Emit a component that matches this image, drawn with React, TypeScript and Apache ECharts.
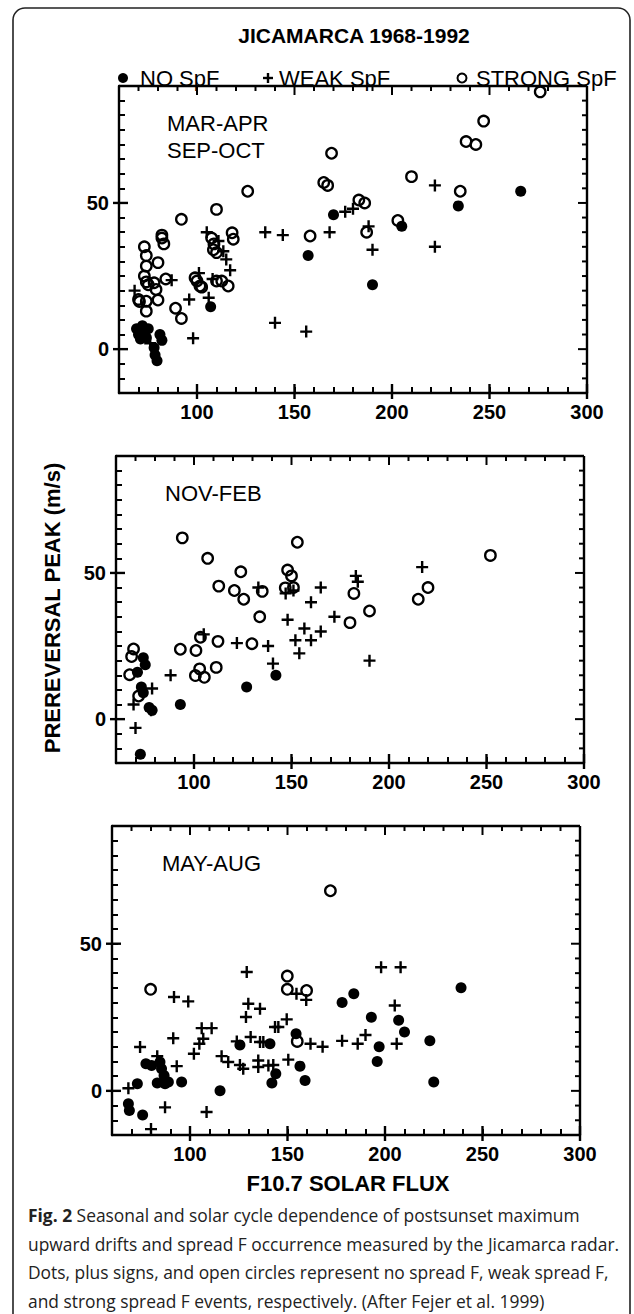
import React, { useEffect, useRef } from "react";
import * as echarts from "echarts";

// ---------------- data ----------------
const X_RANGE = [60, 300];
const Y_RANGE = [-15, 90];
const X_TICK_LABELS = [100, 150, 200, 250, 300];
const Y_TICK_LABELS = [0, 50];
const X_MINOR_STEP = 10;
const Y_MINOR_STEP = 5;

const TITLE = "JICAMARCA 1968-1992";
const LEGEND = ["NO SpF", "WEAK SpF", "STRONG SpF"];
const PANEL_TITLES = [["MAR-APR", "SEP-OCT"], ["NOV-FEB"], ["MAY-AUG"]];
const Y_TITLE = "PREREVERSAL PEAK (m/s)";
const X_TITLE = "F10.7 SOLAR FLUX";
const CAPTION = [
  "{b|Fig. 2} Seasonal and solar cycle dependence of postsunset maximum",
  "upward drifts and spread F occurrence measured by the Jicamarca radar.",
  "Dots, plus signs, and open circles represent no spread F, weak spread F,",
  "and strong spread F events, respectively. (After Fejer et al. 1999)",
];

// Panel 1: MAR-APR / SEP-OCT
const equinoxNone = [
  [69, 7], [70, 5], [71, 3.5], [72, 8], [73, 5.5], [74, 4], [75, 7], [81, 5], [82, 3],
  [78, 0.5], [78.5, -2], [79.5, -4], [107, 14.5], [157, 32], [170, 46], [190, 22],
  [205, 42], [234, 49], [266, 54],
];
const equinoxWeak = [
  [68, 20], [76, 2], [87, 23.6], [96, 17], [98, 3.7], [101, 26], [105, 40], [108, 24],
  [106, 17.6], [111, 37], [113.5, 33.5], [115, 30.7], [117, 27], [135, 40], [144, 39],
  [140, 9], [156, 6], [168, 40], [176, 47], [180, 48], [188, 42], [190, 34], [222, 56],
  [222, 35],
];
const equinoxStrong = [
  [73, 35], [74, 32], [74, 28.4], [73, 25], [74, 23], [75, 22], [80, 29.6], [82, 39],
  [82, 38], [83, 36], [84, 24], [78, 22.7], [79, 20.4], [70, 17], [70.5, 16.3], [74, 16.4],
  [80, 16.8], [74, 13], [89, 14], [92, 10.5], [92, 44.4], [99, 24.4], [100, 23.3],
  [101.5, 21.6], [102.4, 21.2], [110, 47.8], [107.5, 38], [108.7, 36], [108.4, 34],
  [110, 33], [118, 39.8], [118.6, 37.6], [110, 23.3], [112.7, 23.3], [116, 21.6],
  [126, 54], [158, 38.7], [165, 57], [167, 56], [169, 67], [183, 51], [186, 50],
  [187, 40], [203, 44], [210, 59], [235, 54], [238, 71], [243, 70], [247, 78], [276, 88],
];

// Panel 2: NOV-FEB
const winterNone = [
  [72.5, -12], [93, 5], [127, 11], [142, 15], [74, 21], [75, 18.6], [71, 16], [73, 11],
  [74, 9], [77, 4], [78.5, 3],
];
const winterWeak = [
  [69, 5], [70, -3], [78.5, 10.5], [78, 3], [88, 15], [105, 29], [122, 26], [133, 45],
  [138, 25], [140.5, 19], [148, 34], [151, 44], [152, 27], [154, 22.5], [156.6, 31],
  [147, 43], [160, 40], [165, 45], [172, 35], [183, 49], [184, 47], [190, 20], [217, 52],
  [165, 30], [160, 27],
];
const winterStrong = [
  [69, 24], [68, 21.4], [67, 15.2], [71.6, 7.9], [94, 62], [153, 60.5], [107, 55],
  [124, 50.4], [148, 51], [150, 49], [151, 45], [112.7, 45.5], [120.7, 44], [125.5, 41],
  [135, 43.7], [146.8, 44.9], [133.7, 35], [129.7, 25.8], [112.3, 26.6], [103.3, 28],
  [93, 23.9], [101, 23.5], [111.4, 17.7], [102.9, 17.2], [100.7, 14.9], [105.3, 14.3],
  [182, 43], [180, 33], [190, 37], [215, 41], [220, 45], [252, 56],
];

// Panel 3: MAY-AUG
const summerNone = [
  [154.4, 19.4], [125.6, 15.6], [141, 16], [144, 5.8], [142, 2.7], [156.4, 8.4], [159, 3.5],
  [77.4, 9.2], [80.3, 8.6], [84.6, 9.8], [85.4, 7.5], [86.7, 5.2], [83.2, 2.7], [87.2, 2.4],
  [88.9, 3], [95.7, 3], [73, 2.4], [115.4, 0], [68.4, -4.4], [68.9, -6.7], [75.7, -8.2],
  [178, 30], [184, 33], [193, 25], [197, 15], [196, 10], [207, 24], [210, 20], [223, 17],
  [225, 3], [239, 35],
];
const summerWeak = [
  [91.8, 31.9], [99.1, 30.4], [129.1, 40.4], [129.9, 29.6], [135.9, 27.9], [128.7, 25.1],
  [154.6, 33], [159.6, 30.9], [149.6, 24.3], [143.6, 21.7], [145.3, 21.7], [161.8, 16],
  [106, 21.3], [111.1, 21.3], [106.8, 17.7], [104.8, 16], [91.4, 17.9], [74.4, 14.9],
  [102, 12.6], [124, 16.8], [131.1, 18.3], [135.9, 16.6], [137.6, 16.6], [116.2, 11.8],
  [119.6, 9.8], [125.6, 8.8], [127.3, 7.5], [135, 10.3], [135, 8.1], [140.2, 8.6],
  [142.7, 8.8], [150.4, 10.6], [83.2, 11.8], [93.2, 8.4], [68.4, 0.9], [87.2, -5.6],
  [108.5, -7.2], [80, -13], [168, 15], [178, 17], [186, 16], [190, 19], [198, 42],
  [208, 42], [205, 29], [206, 16],
];
const summerStrong = [
  [79.8, 34.5], [149.9, 39], [149.9, 34.5], [159.8, 34.1], [155, 16.8], [172, 68],
];

const PANELS = [
  [equinoxNone, equinoxWeak, equinoxStrong],
  [winterNone, winterWeak, winterStrong],
  [summerNone, summerWeak, summerStrong],
];

// ---------------- styling ----------------
const INK = "#000";
const FONT = "'Liberation Sans', Arial, Helvetica, sans-serif";
const CAP_FONT = "'Open Sans', 'Noto Sans', sans-serif";
const PLUS = "path://M4,0H6V4H10V6H6V10H4V6H0V4H4Z";
const GRIDS = [
  { left: 119, top: 86, width: 468, height: 307 },
  { left: 116, top: 456, width: 468, height: 307 },
  { left: 112, top: 826, width: 468, height: 309 },
];

export default function App() {
  const ref = useRef<HTMLDivElement>(null);
  useEffect(() => {
    if (!ref.current) return;
    const chart = echarts.init(ref.current, undefined, { renderer: "svg" });

    const line = { color: INK, width: 2.4 };
    const tick = { color: INK, width: 2 };
    const label = { show: true, fontSize: 20, fontWeight: "bold", color: INK, fontFamily: FONT };

    const xAxis: any[] = [];
    const yAxis: any[] = [];
    GRIDS.forEach((_, gi) => {
      xAxis.push({
        type: "value",
        gridIndex: gi,
        min: X_RANGE[0],
        max: X_RANGE[1],
        interval: X_MINOR_STEP,
        splitLine: { show: false },
        axisLine: { show: true, onZero: false, lineStyle: line },
        axisTick: { show: true, inside: true, length: 6, lineStyle: tick },
        axisLabel: {
          ...label,
          margin: 9,
          formatter: (v: number) => (X_TICK_LABELS.includes(v) ? String(v) : ""),
        },
      });
      yAxis.push({
        type: "value",
        gridIndex: gi,
        min: Y_RANGE[0],
        max: Y_RANGE[1],
        interval: Y_MINOR_STEP,
        splitLine: { show: false },
        axisLine: { show: true, onZero: false, lineStyle: line },
        axisTick: { show: true, inside: true, length: 6, lineStyle: tick },
        axisLabel: {
          ...label,
          margin: 10,
          formatter: (v: number) => (Y_TICK_LABELS.includes(v) ? String(v) : ""),
        },
      });
    });

    const series: any[] = [];
    PANELS.forEach((sets, gi) => {
      const [none, weak, strong] = sets;
      const common = { type: "scatter", xAxisIndex: gi, yAxisIndex: gi, silent: true };
      series.push(
        {
          ...common,
          name: LEGEND[2],
          data: strong,
          symbol: "circle",
          symbolSize: 10.5,
          itemStyle: { color: "rgba(0,0,0,0)", borderColor: INK, borderWidth: 2.3, opacity: 1 },
        },
        {
          ...common,
          name: LEGEND[1],
          data: weak,
          symbol: PLUS,
          symbolSize: 12,
          itemStyle: { color: INK, opacity: 1 },
        },
        {
          ...common,
          name: LEGEND[0],
          data: none,
          symbol: "circle",
          symbolSize: 11,
          itemStyle: { color: INK, opacity: 1 },
        }
      );
    });

    const txt = (x: number, y: number, text: string, extra: any = {}, elExtra: any = {}) => ({
      type: "text",
      x,
      y,
      silent: true,
      ...elExtra,
      style: {
        text,
        fill: INK,
        fontFamily: FONT,
        fontSize: 22,
        textVerticalAlign: "middle",
        ...extra,
      },
    });

    const graphic: any[] = [
      {
        type: "rect",
        silent: true,
        shape: { x: 13, y: 8, width: 617, height: 1360, r: 12 },
        style: { fill: "none", stroke: "#222", lineWidth: 1.6 },
      },
      txt(354, 35, TITLE, { fontSize: 21, fontWeight: "bold", textAlign: "center" }),
      { type: "circle", silent: true, shape: { cx: 123, cy: 78, r: 5 }, style: { fill: INK } },
      txt(140, 78, LEGEND[0]),
      { type: "rect", silent: true, shape: { x: 263, y: 76.8, width: 10, height: 2.4 }, style: { fill: INK } },
      { type: "rect", silent: true, shape: { x: 266.8, y: 73, width: 2.4, height: 10 }, style: { fill: INK } },
      txt(279, 78, LEGEND[1]),
      { type: "circle", silent: true, shape: { cx: 462, cy: 78, r: 4.5 }, style: { fill: "none", stroke: INK, lineWidth: 2 } },
      txt(476, 78, LEGEND[2]),
      txt(167, 123, PANEL_TITLES[0][0]),
      txt(167, 150, PANEL_TITLES[0][1]),
      txt(165, 493, PANEL_TITLES[1][0]),
      txt(162, 863, PANEL_TITLES[2][0]),
      txt(0, 0, Y_TITLE, { fontSize: 22, fontWeight: "bold", textAlign: "center" }, { x: 52, y: 608, rotation: Math.PI / 2 }),
      txt(348, 1183, X_TITLE, { fontSize: 22, fontWeight: "bold", textAlign: "center" }),
    ];
    CAPTION.forEach((t, i) => {
      graphic.push({
        type: "text",
        x: 28,
        y: 1215 + i * 28.5,
        silent: true,
        style: {
          text: t,
          fill: "#222",
          fontFamily: CAP_FONT,
          fontSize: 17.4,
          textVerticalAlign: "middle",
          rich: { b: { fontFamily: CAP_FONT, fontSize: 17.4, fontWeight: "bold", fill: "#222" } },
        },
      });
    });

    chart.setOption({
      animation: false,
      backgroundColor: "#fff",
      grid: GRIDS,
      xAxis,
      yAxis,
      series,
      graphic,
    });

    // top/right frame ticks and major ticks, placed through the axes' own scales
    const extra: any[] = [];
    const seg = (x1: number, y1: number, x2: number, y2: number, w = 2) => ({
      type: "line",
      silent: true,
      shape: { x1, y1, x2, y2 },
      style: { stroke: INK, lineWidth: w },
    });
    GRIDS.forEach((_, gi) => {
      const xi = { xAxisIndex: gi };
      const yi = { yAxisIndex: gi };
      const X = (v: number) => chart.convertToPixel(xi, v) as number;
      const Y = (v: number) => chart.convertToPixel(yi, v) as number;
      const yB = Y(Y_RANGE[0]);
      const yT = Y(Y_RANGE[1]);
      const xL = X(X_RANGE[0]);
      const xR = X(X_RANGE[1]);
      extra.push(seg(xL, yT, xR, yT, 2.4), seg(xR, yT, xR, yB, 2.4));
      for (let v = X_RANGE[0] + X_MINOR_STEP; v < X_RANGE[1]; v += X_MINOR_STEP) {
        const major = X_TICK_LABELS.includes(v);
        extra.push(seg(X(v), yT, X(v), yT + (major ? 9 : 5)));
      }
      for (let v = Y_RANGE[0] + Y_MINOR_STEP; v < Y_RANGE[1]; v += Y_MINOR_STEP) {
        const major = Y_TICK_LABELS.includes(v);
        extra.push(seg(xR, Y(v), xR - (major ? 9 : 5), Y(v)));
      }
      X_TICK_LABELS.forEach((v) => extra.push(seg(X(v), yB + 6, X(v), yB - 9, 2.4)));
      Y_TICK_LABELS.forEach((v) => extra.push(seg(xL - 6, Y(v), xL + 9, Y(v), 2.4)));
    });
    chart.setOption({ graphic: graphic.concat(extra) });

    return () => chart.dispose();
  }, []);

  return (
    <div
      ref={ref}
      style={{ position: "absolute", left: 0, top: 0, width: 634, height: 1314, background: "#fff" }}
    />
  );
}
